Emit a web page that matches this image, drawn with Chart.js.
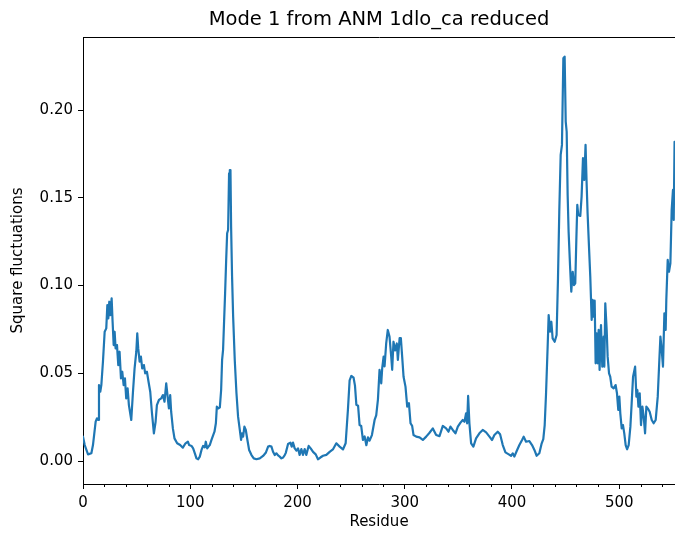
<!DOCTYPE html>
<html>
<head>
<meta charset="utf-8">
<script src="https://cdn.jsdelivr.net/npm/chart.js@4"></script>
<style>
  html, body { margin: 0; padding: 0; background: #fff; }
  #chart { display: block; }
</style>
</head>
<body>
<canvas id="chart" width="675" height="533"></canvas>
<script>
// residue index / square fluctuation in segments
const residuesA = [0, 1.6, 4.7, 7.8, 9.3, 11.8, 13.0, 14.0, 14.9, 16.1, 17.1, 18.6, 20.2, 21.7, 22.7, 23.6, 24.5, 25.4, 26.7, 27.6,
    28.6, 29.5, 30.4, 31.7, 32.9, 34.1, 35.4, 36.6, 37.9, 39.1, 40.3, 41.6, 42.8, 45.0, 46.6, 48.1, 49.7, 50.6, 51.5, 52.8,
    54.0, 55.2, 56.8, 58.0, 59.6, 61.1, 62.7, 64.2, 66.1, 67.7, 68.9, 70.8, 72.9, 74.5, 76.0, 77.6, 79.1, 80.1, 81.3, 82.2,
    83.8, 85.3, 87.8, 90.6, 93.1, 95.6, 97.8];
const fluctA = [0.0139, 0.0091, 0.0038, 0.0044, 0.0091, 0.0224, 0.0243, 0.0234, 0.0433, 0.0395, 0.0433, 0.0566, 0.0737, 0.0756, 0.0889, 0.0813, 0.0908, 0.0832, 0.0927, 0.0794,
    0.0661, 0.0737, 0.0642, 0.0661, 0.0547, 0.0623, 0.0471, 0.0509, 0.0433, 0.0471, 0.0357, 0.0414, 0.0319, 0.0234, 0.0395, 0.0528, 0.0623, 0.0728, 0.0642, 0.0566,
    0.0595, 0.0528, 0.0547, 0.0500, 0.0509, 0.0452, 0.0395, 0.0281, 0.0158, 0.0224, 0.0319, 0.0348, 0.0357, 0.0376, 0.0338, 0.0443, 0.0357, 0.0300, 0.0376, 0.0281,
    0.0186, 0.0129, 0.0101, 0.0091, 0.0076, 0.0101, 0.0110];

const residuesB = [99.0, 101.2, 102.7, 104.3, 105.8, 107.4, 108.9, 110.5, 112.0, 113.6, 114.5, 115.8, 117.0, 118.2, 119.8, 121.4, 122.6, 123.9, 124.8, 126.3,
    127.6, 128.8, 129.7, 130.6, 131.6, 132.5, 133.5, 134.4, 135.3, 136.2, 136.9, 137.5, 138.1, 139.0, 140.0, 141.5, 143.1, 144.6, 146.2, 147.4,
    148.3, 149.3, 150.5, 151.8, 153.3, 154.9, 157.1, 159.2, 161.7, 164.8, 167.9, 170.4, 172.6, 174.1, 175.7, 177.2, 178.8, 180.3, 181.9, 183.4,
    185.0, 186.6, 188.1];
const fluctB = [0.0091, 0.0086, 0.0072, 0.0044, 0.0015, 0.0010, 0.0025, 0.0063, 0.0086, 0.0078, 0.0110, 0.0072, 0.0082, 0.0091, 0.0120, 0.0148, 0.0167, 0.0215, 0.0310, 0.0300,
    0.0306, 0.0405, 0.0576, 0.0633, 0.0804, 0.0956, 0.1146, 0.1298, 0.1317, 0.1640, 0.1659, 0.1659, 0.1336, 0.1051, 0.0823, 0.0576, 0.0386, 0.0253, 0.0177, 0.0120,
    0.0158, 0.0139, 0.0196, 0.0177, 0.0120, 0.0063, 0.0034, 0.0015, 0.0010, 0.0015, 0.0029, 0.0047, 0.0082, 0.0086, 0.0082, 0.0053, 0.0034, 0.0044, 0.0032, 0.0025,
    0.0015, 0.0020, 0.0034];

const residuesC = [189.0, 191.2, 193.4, 194.6, 195.8, 197.4, 199.0, 200.5, 202.0, 203.6, 205.1, 206.7, 208.2, 210.4, 212.3, 214.5, 217.0, 219.1, 221.3, 223.8,
    226.9, 230.0, 233.0, 236.2, 239.3, 242.4, 244.9, 247.0, 248.6, 250.2, 252.3, 253.6, 254.9, 256.5, 257.9, 259.4, 261.0, 262.6, 264.2, 265.7,
    267.2, 269.4, 271.9, 273.4, 275.0, 276.5, 278.1, 279.0, 280.3, 281.2, 282.7, 284.2, 285.8, 287.4, 288.3, 289.5, 291.1, 292.6, 293.6, 295.2,
    296.4, 297.6, 298.9, 300.7, 302.3, 303.9, 305.4, 306.9, 308.2, 310.7, 313.8, 316.9, 320.0, 323.1, 326.2, 329.3, 332.4, 335.5];
const fluctC = [0.0045, 0.0097, 0.0105, 0.0082, 0.0105, 0.0072, 0.0059, 0.0072, 0.0035, 0.0068, 0.0035, 0.0068, 0.0035, 0.0086, 0.0072, 0.0052, 0.0038, 0.0010, 0.0020, 0.0030,
    0.0035, 0.0052, 0.0066, 0.0101, 0.0082, 0.0066, 0.0101, 0.0290, 0.0460, 0.0485, 0.0475, 0.0430, 0.0320, 0.0315, 0.0205, 0.0200, 0.0120, 0.0140, 0.0090, 0.0135,
    0.0116, 0.0148, 0.0234, 0.0260, 0.0350, 0.0520, 0.0443, 0.0530, 0.0595, 0.0540, 0.0670, 0.0747, 0.0709, 0.0595, 0.0520, 0.0680, 0.0630, 0.0670, 0.0576, 0.0700,
    0.0700, 0.0595, 0.0480, 0.0424, 0.0310, 0.0330, 0.0215, 0.0200, 0.0148, 0.0139, 0.0135, 0.0120, 0.0139, 0.0161, 0.0186, 0.0148, 0.0142, 0.0200];

const residuesD = [338.6, 340.8, 342.6, 344.8, 347.3, 349.5, 352.0, 354.1, 355.7, 357.2, 358.2, 359.1, 360.3, 361.9, 364.0, 366.5, 369.6, 372.7, 375.9, 379.0,
    381.4, 383.6, 386.7, 388.9, 391.4, 393.9, 397.0, 399.1, 400.7, 402.2, 404.4, 406.9, 409.4, 410.9, 413.1, 416.2, 418.7, 420.9, 423.0, 425.5,
    427.7, 429.2, 430.5, 431.7, 433.3, 434.2, 435.5, 436.7, 437.9, 439.8, 441.6, 442.9, 444.1, 445.4, 446.6, 447.9, 449.1, 450.1, 451.0, 451.9,
    452.8, 454.1, 455.3, 456.6, 457.8];
const fluctD = [0.0186, 0.0167, 0.0196, 0.0177, 0.0158, 0.0196, 0.0219, 0.0234, 0.0224, 0.0272, 0.0215, 0.0371, 0.0215, 0.0101, 0.0082, 0.0129, 0.0158, 0.0177, 0.0163, 0.0139,
    0.0120, 0.0148, 0.0167, 0.0152, 0.0091, 0.0049, 0.0038, 0.0030, 0.0044, 0.0025, 0.0057, 0.0091, 0.0120, 0.0139, 0.0110, 0.0114, 0.0091, 0.0063, 0.0030, 0.0044,
    0.0101, 0.0125, 0.0205, 0.0376, 0.0661, 0.0832, 0.0737, 0.0794, 0.0699, 0.0680, 0.0718, 0.1042, 0.1421, 0.1745, 0.1802, 0.2296, 0.2305, 0.1935, 0.1877, 0.1517,
    0.1307, 0.1117, 0.0965, 0.1079, 0.1003];

const residuesE = [459.0, 460.0, 460.9, 461.8, 463.7, 464.9, 466.2, 467.4, 468.6, 469.5, 470.5, 471.8, 473.0, 474.3, 475.2, 476.1, 477.1, 478.0, 478.9, 479.9,
    480.8, 481.7, 483.0, 484.2, 485.5, 486.1, 487.0, 488.3, 489.2, 490.5, 491.6, 492.9, 494.8, 496.6, 497.9, 499.1, 500.1, 501.0, 502.3, 503.5,
    504.7, 506.0, 507.3, 508.8, 510.4, 511.6, 512.9, 514.8, 516.0, 516.9, 517.9, 519.1, 520.3, 521.6, 522.8, 524.1, 525.3, 526.6, 528.4, 530.3,
    532.1, 534.0, 535.9, 537.4, 538.4, 539.6, 540.8, 542.1, 543.3, 543.9, 545.2, 546.4, 547.7, 548.9, 550.1, 550.8, 551.6];
const fluctE = [0.1013, 0.1260, 0.1460, 0.1402, 0.1397, 0.1507, 0.1726, 0.1602, 0.1802, 0.1602, 0.1412, 0.1222, 0.1051, 0.0804, 0.0918, 0.0823, 0.0914, 0.0557, 0.0728, 0.0557,
    0.0747, 0.0519, 0.0775, 0.0538, 0.0709, 0.0538, 0.0899, 0.0747, 0.0595, 0.0500, 0.0481, 0.0424, 0.0414, 0.0433, 0.0386, 0.0291, 0.0367, 0.0272, 0.0186, 0.0205,
    0.0158, 0.0091, 0.0067, 0.0091, 0.0196, 0.0329, 0.0481, 0.0538, 0.0367, 0.0405, 0.0310, 0.0386, 0.0205, 0.0310, 0.0253, 0.0158, 0.0310, 0.0300, 0.0281, 0.0234,
    0.0215, 0.0234, 0.0367, 0.0576, 0.0709, 0.0633, 0.0538, 0.0842, 0.0747, 0.0918, 0.1146, 0.1079, 0.1127, 0.1431, 0.1545, 0.1374, 0.1820];

const xMajorTicks = [0, 100, 200, 300, 400, 500];
const xMinorTicks = [20, 40, 60, 80, 120, 140, 160, 180, 220, 240, 260, 280, 320, 340, 360, 380, 420, 440, 460, 480, 520, 540];
const yTicks = [0, 0.05, 0.10, 0.15, 0.20];

const residues = residuesA.concat(residuesB, residuesC, residuesD, residuesE);
const fluct = fluctA.concat(fluctB, fluctC, fluctD, fluctE);

const FONT = 'DejaVu Sans';

// short matplotlib-like minor ticks under the x axis
const minorTicks = {
    id: 'minorTicks',
    afterDraw(chart) {
        const ctx = chart.ctx;
        const x = chart.scales.x;
        const bottom = chart.chartArea.bottom;
        ctx.save();
        ctx.strokeStyle = '#000';
        ctx.lineWidth = 1;
        xMinorTicks.forEach(v => {
            const px = Math.round(x.getPixelForValue(v)) + 0.5;
            ctx.beginPath();
            ctx.moveTo(px, bottom);
            ctx.lineTo(px, bottom + 3);
            ctx.stroke();
        });
        ctx.restore();
    }
};

new Chart(document.getElementById('chart'), {
    type: 'line',
    data: {
        datasets: [{
            data: residues.map((r, i) => ({ x: r, y: fluct[i] })),
            borderColor: '#1f77b4',
            borderWidth: 2.2,
            pointRadius: 0,
            tension: 0,
            borderJoinStyle: 'round',
            borderCapStyle: 'round'
        }]
    },
    options: {
        responsive: false,
        animation: false,
        devicePixelRatio: 1,
        layout: { padding: 0 },
        plugins: {
            legend: { display: false },
            tooltip: { enabled: false }
        },
        scales: {
            x: {
                type: 'linear',
                position: 'bottom',
                min: 0,
                max: 552,
                afterBuildTicks: s => { s.ticks = xMajorTicks.map(v => ({ value: v })); },
                afterFit: s => { s.height = 49; },
                border: { display: true, color: '#000', width: 1 },
                grid: { drawOnChartArea: false, tickLength: 5, tickColor: '#000', tickWidth: 1 },
                ticks: { color: '#000', padding: 5, maxRotation: 0, autoSkip: false, font: { family: FONT, size: 15 } },
                title: { display: true, text: 'Residue', color: '#000', font: { family: FONT, size: 15 }, padding: { top: 0, bottom: 2 } }
            },
            xTop: {
                type: 'linear',
                position: 'top',
                min: 0,
                max: 552,
                afterFit: s => { s.height = 37; },
                border: { display: true, color: '#000', width: 1 },
                grid: { drawOnChartArea: false, drawTicks: false },
                ticks: { display: false },
                title: { display: true, text: 'Mode 1 from ANM 1dlo_ca reduced', color: '#000', font: { family: FONT, size: 19.5 }, padding: { top: 8, bottom: 0 } }
            },
            y: {
                type: 'linear',
                position: 'left',
                min: -0.0131,
                max: 0.2417,
                afterBuildTicks: s => { s.ticks = yTicks.map(v => ({ value: v })); },
                afterFit: s => { s.width = 83; },
                border: { display: true, color: '#000', width: 1 },
                grid: { drawOnChartArea: false, tickLength: 5, tickColor: '#000', tickWidth: 1 },
                ticks: { color: '#000', padding: 5, font: { family: FONT, size: 15 }, callback: v => v.toFixed(2) },
                title: { display: true, text: 'Square fluctuations', color: '#000', font: { family: FONT, size: 15 }, padding: { top: 9, bottom: 0 } }
            }
        }
    },
    plugins: [minorTicks]
});
</script>
</body>
</html>
